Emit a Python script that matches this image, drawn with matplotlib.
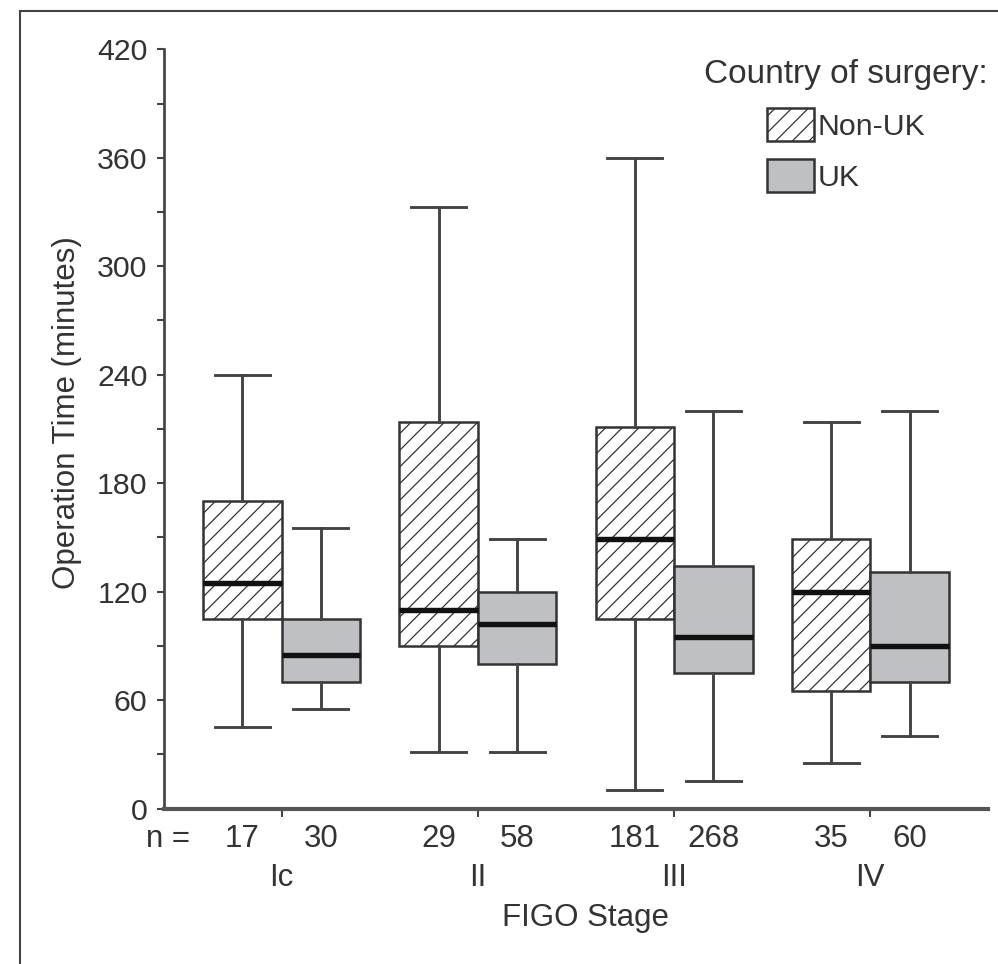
import numpy as np
import matplotlib
matplotlib.use('Agg')
import matplotlib.pyplot as plt
from matplotlib.patches import Patch
from matplotlib.lines import Line2D
from matplotlib.ticker import MultipleLocator

# ---- data ----
stages = ['Ic', 'II', 'III', 'IV']
n_nonuk = [17, 29, 181, 35]
n_uk = [30, 58, 268, 60]

nonuk_low = [45, 31, 10, 25]
nonuk_q1 = [105, 90, 105, 65]
nonuk_med = [125, 110, 149, 120]
nonuk_q3 = [170, 214, 211, 149]
nonuk_high = [240, 333, 360, 214]

uk_low = [55, 31, 15, 40]
uk_q1 = [70, 80, 75, 70]
uk_med = [85, 102, 95, 90]
uk_q3 = [105, 120, 134, 131]
uk_high = [155, 149, 220, 220]

yticks = [0, 60, 120, 180, 240, 300, 360, 420]

# ---- style ----
plt.rcParams['font.family'] = ['Liberation Sans', 'DejaVu Sans']
plt.rcParams['hatch.linewidth'] = 0.6

EDGE = '#333333'
UKFILL = '#bfc0c4'
HATCH = '///'

def make_stats(lo, q1, med, q3, hi):
    return [dict(whislo=a, q1=b, med=c, q3=d, whishi=e, fliers=[])
            for a, b, c, d, e in zip(lo, q1, med, q3, hi)]

DPI = 150
fig = plt.figure(figsize=(998 / DPI, 964 / DPI), dpi=DPI)
ax = fig.add_axes([164 / 998, 1 - 808.5 / 964, (988 - 164) / 998, (808.5 - 49.3) / 964])

pos = np.arange(1, len(stages) + 1)
common = dict(widths=0.4, patch_artist=True, showfliers=False, capwidths=0.28,
              medianprops=dict(color='#111111', linewidth=2.6),
              whiskerprops=dict(color='#444444', linewidth=1.4),
              capprops=dict(color='#444444', linewidth=1.4))

ax.bxp(make_stats(nonuk_low, nonuk_q1, nonuk_med, nonuk_q3, nonuk_high),
       positions=pos - 0.2,
       boxprops=dict(facecolor='white', edgecolor=EDGE, linewidth=1.2, hatch=HATCH),
       **common)
ax.bxp(make_stats(uk_low, uk_q1, uk_med, uk_q3, uk_high),
       positions=pos + 0.2,
       boxprops=dict(facecolor=UKFILL, edgecolor=EDGE, linewidth=1.2),
       **common)

ax.set_xlim(0.4, 4.6)
ax.set_ylim(0, 420)

# y axis
ax.set_yticks(yticks)
ax.set_yticklabels([str(v) for v in yticks])
ax.yaxis.set_minor_locator(MultipleLocator(30))
ax.tick_params(axis='y', which='both', length=3.4, width=1.0, color='#444444',
               direction='out', pad=4.5, labelsize=14.5, labelcolor='#333333')

# x axis
ax.set_xticks(pos)
ax.set_xticklabels(stages)
minor_pos = [0.42] + list(np.ravel(np.column_stack([pos - 0.2, pos + 0.2])))
minor_lab = ['n ='] + [str(v) for pair in zip(n_nonuk, n_uk) for v in pair]
ax.set_xticks(minor_pos, minor=True)
ax.set_xticklabels(minor_lab, minor=True)
ax.tick_params(axis='x', which='major', length=4, width=1.0, color='#444444',
               direction='out', pad=22, labelsize=15, labelcolor='#333333')
ax.tick_params(axis='x', which='minor', length=0, pad=7.5, labelsize=15,
               labelcolor='#333333')

for s in ['top', 'right']:
    ax.spines[s].set_visible(False)
ax.spines['left'].set_linewidth(1.3)
ax.spines['left'].set_color('#444444')
ax.spines['bottom'].set_linewidth(2.0)
ax.spines['bottom'].set_color('#555555')

ax.set_ylabel('Operation Time (minutes)', fontsize=15, color='#333333')
ax.yaxis.set_label_coords(-0.100, 0.522)
ax.set_xlabel('FIGO Stage', fontsize=15, color='#333333')
ax.xaxis.set_label_coords(0.511, -0.124)

# legend
handles = [Patch(facecolor='white', edgecolor=EDGE, hatch=HATCH, linewidth=1.2, label='Non-UK'),
           Patch(facecolor=UKFILL, edgecolor=EDGE, linewidth=1.2, label='UK')]
leg = ax.legend(handles=handles, title='Country of surgery:', loc='upper right',
                bbox_to_anchor=(988 / 998, 1 - 59 / 964), bbox_transform=fig.transFigure,
                frameon=False, fontsize=14.5, title_fontsize=16,
                handlelength=1.55, handleheight=1.3, handletextpad=0.1,
                labelspacing=0.6, borderpad=0, borderaxespad=0)
for t in leg.get_texts():
    t.set_color('#333333')
leg.get_title().set_color('#333333')

# figure border (left and top)
bx = 20 / 998
by = 1 - 11 / 964
fig.add_artist(Line2D([bx, bx], [0, by], transform=fig.transFigure, color='#444444', lw=1.0))
fig.add_artist(Line2D([bx, 1], [by, by], transform=fig.transFigure, color='#444444', lw=1.0))

fig.savefig('out.png', dpi=DPI)
